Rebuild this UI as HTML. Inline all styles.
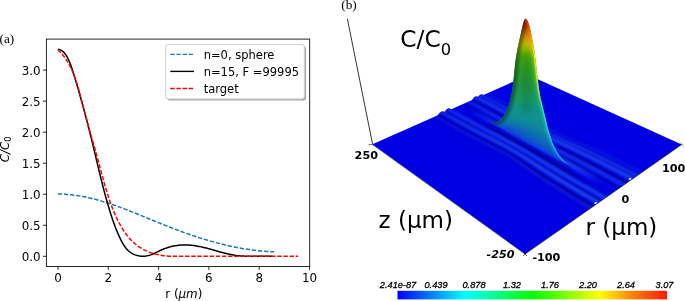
<!DOCTYPE html>
<html><head><meta charset="utf-8"><title>figure</title>
<style>html,body{margin:0;padding:0;background:#fff;overflow:hidden}svg{display:block}</style>
</head><body>
<svg width="685" height="301" viewBox="0 0 685 301">
<rect width="685" height="301" fill="#fff"/>

<defs>
  <linearGradient id="cb" x1="0" x2="1" y1="0" y2="0">
    <stop offset="0" stop-color="#0000ff"/>
    <stop offset="0.143" stop-color="#0092ff"/>
    <stop offset="0.25" stop-color="#00ffff"/>
    <stop offset="0.375" stop-color="#00ff80"/>
    <stop offset="0.5" stop-color="#00ff00"/>
    <stop offset="0.625" stop-color="#80ff00"/>
    <stop offset="0.75" stop-color="#ffff00"/>
    <stop offset="0.875" stop-color="#ff8000"/>
    <stop offset="1" stop-color="#ff1800"/>
  </linearGradient>
  <linearGradient id="pk" gradientUnits="userSpaceOnUse" x1="0" y1="18" x2="0" y2="138">
    <stop offset="0" stop-color="#a00600"/>
    <stop offset="0.045" stop-color="#bc1c00"/>
    <stop offset="0.09" stop-color="#d04400"/>
    <stop offset="0.13" stop-color="#d87400"/>
    <stop offset="0.175" stop-color="#d09c00"/>
    <stop offset="0.22" stop-color="#bcb800"/>
    <stop offset="0.27" stop-color="#8cbc00"/>
    <stop offset="0.33" stop-color="#4cac10"/>
    <stop offset="0.45" stop-color="#2ca02c"/>
    <stop offset="0.57" stop-color="#209848"/>
    <stop offset="0.68" stop-color="#189c68"/>
    <stop offset="0.76" stop-color="#109488"/>
    <stop offset="0.83" stop-color="#109090" stop-opacity="0.75"/>
    <stop offset="0.92" stop-color="#108c94" stop-opacity="0"/>
    <stop offset="1" stop-color="#108c94" stop-opacity="0"/>
  </linearGradient>
  <linearGradient id="sk" gradientUnits="userSpaceOnUse" x1="527" y1="142.5" x2="539.6" y2="119.8">
    <stop offset="0" stop-color="#0a3ce0"/>
    <stop offset="0.15" stop-color="#0c54cc"/>
    <stop offset="0.4" stop-color="#0c70b0"/>
    <stop offset="0.75" stop-color="#108898"/>
    <stop offset="1" stop-color="#109090"/>
  </linearGradient>
  <linearGradient id="hl" gradientUnits="userSpaceOnUse" x1="0" y1="18" x2="0" y2="165">
    <stop offset="0" stop-color="#e03000"/>
    <stop offset="0.12" stop-color="#ff9000"/>
    <stop offset="0.25" stop-color="#fff000"/>
    <stop offset="0.42" stop-color="#d0ff20"/>
    <stop offset="0.52" stop-color="#80f060"/>
    <stop offset="0.62" stop-color="#30e8b0"/>
    <stop offset="0.72" stop-color="#20dce0"/>
    <stop offset="0.88" stop-color="#20b8f0"/>
    <stop offset="1" stop-color="#2080ff"/>
  </linearGradient>
  <linearGradient id="rlg" gradientUnits="userSpaceOnUse" x1="440" y1="100" x2="620" y2="200">
    <stop offset="0" stop-color="#2050ff" stop-opacity="0.7"/>
    <stop offset="0.35" stop-color="#285cff" stop-opacity="1"/>
    <stop offset="0.7" stop-color="#285cff" stop-opacity="1"/>
    <stop offset="1" stop-color="#2458ff" stop-opacity="1"/>
  </linearGradient>
  <linearGradient id="rdg" gradientUnits="userSpaceOnUse" x1="440" y1="100" x2="620" y2="200">
    <stop offset="0" stop-color="#000088" stop-opacity="0.7"/>
    <stop offset="0.35" stop-color="#000080" stop-opacity="1"/>
    <stop offset="0.7" stop-color="#000080" stop-opacity="1"/>
    <stop offset="1" stop-color="#000084" stop-opacity="1"/>
  </linearGradient>
  <linearGradient id="rlc" gradientUnits="userSpaceOnUse" x1="458" y1="106" x2="613" y2="192">
    <stop offset="0.05" stop-color="#2050ff" stop-opacity="0"/>
    <stop offset="0.3" stop-color="#285cff" stop-opacity="1"/>
    <stop offset="0.72" stop-color="#285cff" stop-opacity="1"/>
    <stop offset="0.92" stop-color="#2050ff" stop-opacity="0.1"/>
  </linearGradient>
  <linearGradient id="rdc" gradientUnits="userSpaceOnUse" x1="458" y1="106" x2="613" y2="192">
    <stop offset="0.05" stop-color="#000088" stop-opacity="0"/>
    <stop offset="0.3" stop-color="#000080" stop-opacity="1"/>
    <stop offset="0.72" stop-color="#000080" stop-opacity="1"/>
    <stop offset="0.92" stop-color="#000088" stop-opacity="0.1"/>
  </linearGradient>
  <clipPath id="plc"><polygon points="372.4,144.3 528.5,75 681.7,144.4 525.1,253.9"/></clipPath>
  <clipPath id="pkc"><path d="M488.9,122.0 L490.5,122.4 L492.0,122.6 L493.6,122.5 L495.1,122.3 L496.5,121.9 L497.9,121.3 L499.2,120.6 L500.3,119.7 L501.4,118.8 L502.4,117.8 L503.4,116.6 L504.2,115.5 L505.0,114.2 L505.7,112.9 L506.4,111.5 L507.0,110.1 L507.5,108.7 L508.1,107.3 L508.6,105.9 L509.0,104.4 L509.5,103.0 L509.9,101.6 L510.2,100.1 L510.6,98.7 L510.9,97.2 L511.2,95.8 L511.5,94.3 L511.8,92.8 L512.1,91.4 L512.3,89.9 L512.5,88.4 L512.7,87.0 L512.9,85.5 L513.1,84.0 L513.3,82.5 L513.4,81.1 L513.6,79.6 L513.7,78.1 L513.9,76.6 L514.0,75.1 L514.2,73.6 L514.3,72.2 L514.5,70.7 L514.6,69.2 L514.8,67.7 L514.9,66.2 L515.1,64.8 L515.3,63.3 L515.4,61.8 L515.6,60.3 L515.8,58.8 L516.1,57.4 L516.3,55.9 L516.5,54.4 L516.8,53.0 L517.1,51.5 L517.3,50.0 L517.6,48.6 L517.9,47.1 L518.2,45.6 L518.5,44.2 L518.8,42.7 L519.1,41.3 L519.5,39.8 L519.8,38.3 L520.1,36.9 L520.4,35.4 L520.8,34.0 L521.1,32.5 L521.4,31.1 L521.7,29.6 L522.1,28.2 L522.4,26.7 L522.7,25.3 L523.1,23.8 L523.5,22.4 L524.0,21.0 L524.6,19.7 L525.4,18.5 L527.0,20.0 L527.8,21.8 L528.6,23.7 L529.2,25.6 L529.7,27.6 L530.2,29.5 L530.7,31.5 L531.1,33.5 L531.5,35.4 L531.9,37.4 L532.2,39.4 L532.6,41.4 L533.0,43.3 L533.3,45.3 L533.6,47.3 L534.0,49.3 L534.3,51.3 L534.6,53.3 L534.9,55.3 L535.1,57.2 L535.4,59.2 L535.7,61.2 L535.9,63.2 L536.1,65.2 L536.3,67.2 L536.6,69.2 L536.8,71.3 L537.0,73.3 L537.2,75.3 L537.4,77.3 L537.7,79.3 L537.9,81.3 L538.2,83.3 L538.4,85.3 L538.7,87.3 L539.0,89.2 L539.3,91.2 L539.7,93.2 L540.0,95.2 L540.4,97.2 L540.8,99.1 L541.3,101.1 L541.7,103.0 L542.2,105.0 L542.7,106.9 L543.2,108.9 L543.7,110.8 L544.1,112.8 L544.6,114.8 L545.1,116.7 L545.6,118.7 L546.0,120.6 L546.5,122.6 L547.0,124.6 L547.4,126.5 L547.9,128.5 L548.5,130.4 L549.0,132.4 L549.6,134.3 L550.2,136.2 L550.8,138.1 L551.5,140.0 L552.2,141.9 L553.0,143.8 L553.8,145.6 L554.6,147.4 L555.6,149.2 L556.6,151.0 L557.6,152.7 L558.7,154.4 L559.9,156.0 L561.2,157.6 L562.5,159.1 L563.9,160.5 L565.3,161.9 L566.9,163.2 L568.5,164.4 L570.2,165.5 L572.0,166.5 L570.3,165.6 L568.6,164.7 L566.9,163.7 L565.3,162.8 L563.6,161.9 L561.9,160.9 L560.2,160.0 L558.5,159.1 L556.8,158.2 L555.1,157.3 L553.4,156.4 L551.8,155.4 L550.1,154.5 L548.4,153.6 L546.7,152.7 L545.0,151.8 L543.3,150.9 L541.6,150.0 L539.9,149.1 L538.2,148.2 L536.5,147.3 L534.8,146.4 L533.1,145.5 L531.4,144.6 L529.7,143.7 L528.0,142.7 L526.4,141.8 L524.7,140.9 L523.0,139.9 L521.3,139.0 L519.6,138.0 L518.0,137.1 L516.3,136.1 L514.6,135.2 L512.9,134.3 L511.3,133.3 L509.6,132.4 L507.9,131.5 L506.2,130.5 L504.5,129.6 L502.8,128.7 L501.1,127.8 L499.4,126.9 L497.7,126.1 L496.0,125.2 L494.3,124.4 L492.5,123.5 L490.8,122.7 L489.0,121.9Z"/></clipPath>
  <filter id="b05" filterUnits="userSpaceOnUse" x="340" y="0" width="345" height="301"><feGaussianBlur stdDeviation="0.9"/></filter>
  <filter id="b06" filterUnits="userSpaceOnUse" x="340" y="0" width="345" height="301"><feGaussianBlur stdDeviation="0.6"/></filter>
  <filter id="b1" filterUnits="userSpaceOnUse" x="340" y="0" width="345" height="301"><feGaussianBlur stdDeviation="0.8"/></filter>
  <filter id="b15" filterUnits="userSpaceOnUse" x="340" y="0" width="345" height="301"><feGaussianBlur stdDeviation="1.6"/></filter>
  <filter id="b3" filterUnits="userSpaceOnUse" x="340" y="0" width="345" height="301"><feGaussianBlur stdDeviation="3"/></filter>
</defs>
<g>
  <line x1="347.4" y1="18.9" x2="372.6" y2="144.3" stroke="#000" stroke-width="0.8"/>
  <polygon points="372.4,144.3 528.5,75 681.7,144.4 525.1,253.9" fill="#0000e2"/>
  <path d="M437.4,115.7 Q441.3,108.9 445.2,112.3Z" fill="#0614e4"/><path d="M443.9,112.9 Q447.7,106.1 451.5,109.5Z" fill="#0614e4"/><path d="M471.7,100.5 Q475.3,93.8 478.8,97.4Z" fill="#0614e4"/><path d="M476.9,98.2 Q480.4,92.7 483.9,95.1Z" fill="#0614e4"/>
  <g clip-path="url(#plc)"><g filter="url(#b05)" stroke-linecap="butt">
    <polygon points="429.2,116.5 439.1,122.5 449.5,128.6 460.4,134.7 472.3,140.8 484.9,147.0 497.8,153.4 510.0,160.7 521.6,168.8 533.5,177.5 546.3,186.2 560.2,195.0 574.9,204.0 590.4,213.4 592.4,211.9 576.9,202.7 562.2,193.7 548.3,185.0 535.4,176.3 523.4,167.8 511.7,159.8 499.5,152.5 486.7,146.0 474.2,139.9 462.4,133.8 451.4,127.6 441.1,121.6 431.2,115.7" fill="url(#rdg)" opacity="0.25"/><polygon points="433.7,113.8 443.6,119.6 453.9,125.6 464.9,131.7 476.6,137.8 489.0,144.0 501.7,150.4 513.9,157.6 525.7,165.5 537.8,173.9 550.8,182.4 564.7,191.0 579.5,199.9 594.9,209.0 596.2,208.1 580.8,199.0 566.0,190.2 552.1,181.6 539.1,173.1 526.9,164.8 515.0,156.9 502.8,149.8 490.2,143.3 477.8,137.2 466.2,131.1 455.2,125.0 444.9,119.0 435.0,113.2" fill="url(#rdg)" opacity="0.12"/><polygon points="434.6,114.2 444.5,120.0 454.9,126.0 465.8,132.1 477.5,138.3 489.8,144.4 502.5,150.9 514.7,158.1 526.6,166.0 538.7,174.4 551.7,182.9 565.6,191.5 580.4,200.3 595.8,209.5 598.5,207.6 583.1,198.5 568.4,189.8 554.4,181.2 541.3,172.8 529.0,164.6 517.0,156.8 504.8,149.7 492.3,143.2 480.0,137.0 468.4,130.9 457.5,124.8 447.2,118.8 437.3,113.0" fill="url(#rdg)" opacity="0.75"/><polygon points="440.6,109.5 450.6,115.2 460.9,121.1 471.8,127.1 483.3,133.1 495.4,139.3 507.7,145.7 520.0,152.7 532.1,160.3 544.6,168.3 557.7,176.5 571.8,184.9 586.5,193.5 601.9,202.4 603.7,201.1 588.3,192.3 573.5,183.7 559.5,175.4 546.2,167.3 533.7,159.4 521.5,151.9 509.3,144.9 497.0,138.5 484.9,132.3 473.5,126.2 462.7,120.2 452.3,114.4 442.4,108.7" fill="url(#rdg)" opacity="0.38"/><polygon points="441.0,111.3 451.0,117.1 461.3,123.0 472.2,129.0 483.7,135.2 495.7,141.4 508.1,147.9 520.3,155.0 532.5,162.6 545.0,170.7 558.2,178.9 572.2,187.3 586.9,195.9 602.4,204.9 605.0,203.0 589.6,194.1 574.8,185.6 560.8,177.3 547.5,169.1 534.9,161.2 522.7,153.7 510.4,146.7 498.2,140.2 486.2,133.9 474.8,127.8 464.0,121.8 453.6,115.9 443.7,110.2" fill="url(#rdg)" opacity="0.65"/><polygon points="447.0,106.7 457.0,112.3 467.3,118.1 478.1,124.0 489.4,130.1 501.2,136.3 513.3,142.8 525.6,149.7 537.9,157.0 550.7,164.7 564.1,172.6 578.2,180.7 592.9,189.1 608.3,197.9 610.1,196.6 594.7,187.9 579.9,179.6 565.8,171.5 552.3,163.7 539.5,156.1 527.1,148.8 514.8,142.0 502.8,135.5 491.0,129.3 479.8,123.2 469.0,117.3 458.7,111.5 448.7,105.9" fill="url(#rdg)" opacity="0.33"/><polygon points="449.6,107.6 459.5,113.2 469.8,119.0 480.6,125.0 491.8,131.1 503.5,137.4 515.6,143.9 527.8,150.9 540.3,158.2 553.1,165.8 566.6,173.6 580.7,181.7 595.5,190.1 610.9,198.8 614.9,196.0 599.5,187.4 584.7,179.2 570.6,171.2 557.0,163.5 543.9,156.1 531.3,148.9 519.0,142.1 507.1,135.5 495.6,129.2 484.5,123.1 473.8,117.1 463.5,111.4 453.5,105.8" fill="url(#rdc)" opacity="0.6"/><polygon points="458.5,101.1 468.5,106.5 478.8,112.2 489.4,118.0 500.4,124.0 511.7,130.3 523.4,136.8 535.7,143.5 548.4,150.3 561.7,157.5 575.5,164.9 589.7,172.6 604.5,180.6 619.8,189.0 622.4,187.2 607.1,178.9 592.3,170.9 578.0,163.3 564.2,156.0 550.8,149.0 537.9,142.2 525.7,135.6 514.1,129.1 502.9,122.8 492.0,116.7 481.4,110.9 471.1,105.4 461.1,100.0" fill="url(#rdc)" opacity="0.30"/><polygon points="460.4,102.8 470.4,108.2 480.7,113.9 491.3,119.8 502.2,125.9 513.4,132.3 525.1,138.9 537.3,145.6 550.2,152.4 563.6,159.5 577.4,167.0 591.6,174.7 606.4,182.8 621.8,191.2 624.3,189.4 608.9,181.1 594.1,173.1 579.9,165.4 566.0,158.1 552.5,151.1 539.5,144.4 527.3,137.7 515.7,131.1 504.6,124.7 493.8,118.6 483.2,112.7 472.9,107.1 463.0,101.7" fill="url(#rdg)" opacity="0.5"/><polygon points="466.1,98.8 476.1,104.1 486.4,109.7 496.9,115.5 507.7,121.5 518.6,127.9 530.1,134.4 542.3,141.0 555.4,147.6 569.0,154.4 583.0,161.5 597.3,169.0 612.1,176.9 627.4,185.1 629.0,183.9 613.7,175.8 598.9,168.0 584.6,160.5 570.6,153.5 556.9,146.8 543.7,140.2 531.5,133.7 520.1,127.1 509.2,120.7 498.6,114.7 488.0,108.9 477.8,103.4 467.8,98.0" fill="url(#rdg)" opacity="0.25"/><polygon points="468.5,99.2 478.5,104.6 488.8,110.1 499.3,115.9 510.0,122.1 520.8,128.5 532.2,135.1 544.4,141.7 557.6,148.2 571.3,154.9 585.4,162.0 599.7,169.5 614.5,177.3 629.8,185.5 632.4,183.6 617.1,175.5 602.4,167.8 588.0,160.4 573.9,153.4 560.0,146.8 546.8,140.4 534.5,133.8 523.3,127.2 512.5,120.8 502.0,114.7 491.5,108.9 481.2,103.3 471.2,98.0" fill="url(#rdg)" opacity="0.7"/><polygon points="474.6,94.5 484.6,99.8 494.9,105.2 505.3,110.9 515.8,116.9 526.3,123.3 537.5,129.9 549.7,136.3 563.1,142.6 577.1,148.9 591.3,155.7 605.7,162.9 620.5,170.5 635.7,178.5 637.5,177.3 622.2,169.4 607.4,161.8 593.0,154.6 578.8,147.9 564.7,141.6 551.3,135.4 539.0,129.0 528.0,122.5 517.5,116.1 507.0,110.0 496.6,104.4 486.3,99.0 476.3,93.8" fill="url(#rdg)" opacity="0.35"/><polygon points="474.4,96.6 484.4,101.9 494.7,107.4 505.2,113.1 515.6,119.2 526.2,125.7 537.4,132.3 549.6,138.8 563.0,145.1 576.9,151.6 591.1,158.4 605.5,165.7 620.3,173.4 635.6,181.4 637.8,179.9 622.5,171.9 607.7,164.3 593.3,157.1 579.0,150.3 565.0,144.0 551.5,137.7 539.3,131.3 528.2,124.7 517.7,118.2 507.3,112.1 496.9,106.3 486.6,100.9 476.6,95.6" fill="url(#rdg)" opacity="0.5"/><polygon points="479.4,92.9 489.4,98.1 499.7,103.5 510.1,109.1 520.4,115.2 530.7,121.6 541.7,128.2 554.0,134.6 567.5,140.7 581.7,146.8 596.0,153.4 610.5,160.5 625.2,168.0 640.5,175.8 641.9,174.8 626.6,167.0 611.9,159.6 597.4,152.5 583.0,146.0 568.8,139.9 555.2,133.9 543.0,127.5 532.1,120.9 521.8,114.5 511.5,108.4 501.1,102.8 490.9,97.4 480.8,92.3" fill="url(#rdg)" opacity="0.25"/><polygon points="480.7,93.9 490.7,99.1 500.9,104.5 511.3,110.2 521.6,116.3 531.9,122.8 542.8,129.4 555.1,135.8 568.6,141.9 582.9,148.0 597.3,154.6 611.7,161.7 626.5,169.2 641.7,177.1 643.4,175.9 628.2,168.1 613.4,160.6 598.9,153.6 584.5,147.0 570.2,141.0 556.6,134.9 544.4,128.6 533.5,121.9 523.3,115.4 513.0,109.3 502.7,103.6 492.4,98.3 482.4,93.1" fill="url(#rdg)" opacity="0.25"/><polygon points="484.6,91.3 494.6,96.5 504.8,101.8 515.2,107.4 525.3,113.5 535.5,120.0 546.3,126.6 558.5,132.9 572.2,138.8 586.6,144.8 601.1,151.2 615.6,158.1 630.3,165.5 645.5,173.2 646.7,172.4 631.4,164.7 616.7,157.4 602.2,150.5 587.7,144.1 573.2,138.2 559.5,132.3 547.3,126.1 536.5,119.5 526.4,112.9 516.3,106.9 506.0,101.2 495.7,95.9 485.7,90.8" fill="url(#rdg)" opacity="0.12"/>
    <polygon points="431.0,114.9 441.0,120.8 451.3,126.8 462.3,133.0 474.1,139.1 486.6,145.2 499.4,151.6 511.6,158.8 523.3,166.9 535.3,175.4 548.2,184.0 562.1,192.8 576.8,201.7 592.3,210.9 594.9,209.0 579.5,199.9 564.7,191.0 550.8,182.4 537.8,173.9 525.7,165.5 513.9,157.6 501.7,150.4 489.0,144.0 476.6,137.8 464.9,131.7 453.9,125.6 443.6,119.6 433.7,113.8" fill="url(#rlg)" opacity="0.22"/><polygon points="437.1,111.1 447.0,116.8 457.4,122.7 468.2,128.8 479.9,134.8 492.1,141.0 504.6,147.4 516.9,154.5 528.9,162.2 541.1,170.4 554.2,178.7 568.2,187.2 582.9,195.9 598.4,204.9 601.9,202.4 586.5,193.5 571.8,184.9 557.7,176.5 544.6,168.3 532.1,160.3 520.0,152.7 507.7,145.7 495.4,139.3 483.3,133.1 471.8,127.1 460.9,121.1 450.6,115.2 440.6,109.5" fill="url(#rlg)" opacity="0.7"/><polygon points="443.5,108.2 453.5,113.9 463.8,119.7 474.6,125.7 486.0,131.8 498.0,137.9 510.3,144.4 522.5,151.4 534.7,158.8 547.3,166.7 560.6,174.7 574.7,183.0 589.4,191.5 604.8,200.3 608.3,197.9 592.9,189.1 578.2,180.7 564.1,172.6 550.7,164.7 537.9,157.0 525.6,149.7 513.3,142.8 501.2,136.3 489.4,130.1 478.1,124.0 467.3,118.1 457.0,112.3 447.0,106.7" fill="url(#rlg)" opacity="0.62"/><polygon points="453.3,103.4 463.2,108.9 473.6,114.6 484.3,120.5 495.4,126.5 506.9,132.8 518.8,139.3 531.1,146.0 543.6,153.1 556.7,160.5 570.3,168.1 584.5,176.0 599.2,184.2 614.6,192.7 619.8,189.0 604.5,180.6 589.7,172.6 575.5,164.9 561.7,157.5 548.4,150.3 535.7,143.5 523.4,136.8 511.7,130.3 500.4,124.0 489.4,118.0 478.8,112.2 468.5,106.5 458.5,101.1" fill="url(#rlc)" opacity="0.65"/><polygon points="462.8,100.2 472.8,105.6 483.1,111.2 493.7,117.0 504.5,123.1 515.6,129.4 527.1,136.0 539.4,142.6 552.3,149.4 565.8,156.3 579.7,163.6 594.0,171.2 608.7,179.1 624.1,187.4 627.4,185.1 612.1,176.9 597.3,169.0 583.0,161.5 569.0,154.4 555.4,147.6 542.3,141.0 530.1,134.4 518.6,127.9 507.7,121.5 496.9,115.5 486.4,109.7 476.1,104.1 466.1,98.8" fill="url(#rlg)" opacity="0.5"/><polygon points="471.0,96.1 481.0,101.4 491.3,106.8 501.8,112.6 512.4,118.6 523.1,125.0 534.4,131.5 546.6,138.0 559.9,144.4 573.7,151.0 587.8,157.9 602.2,165.2 616.9,172.9 632.2,181.0 635.7,178.5 620.5,170.5 605.7,162.9 591.3,155.7 577.1,148.9 563.1,142.6 549.7,136.3 537.5,129.9 526.3,123.3 515.8,116.9 505.3,110.9 494.9,105.2 484.6,99.8 474.6,94.5" fill="url(#rlg)" opacity="0.7"/><polygon points="476.5,94.2 486.5,99.4 496.8,104.8 507.2,110.5 517.6,116.6 528.1,123.0 539.2,129.6 551.4,136.0 564.8,142.2 578.9,148.5 593.2,155.2 607.6,162.4 622.3,169.9 637.6,177.9 640.5,175.8 625.2,168.0 610.5,160.5 596.0,153.4 581.7,146.8 567.5,140.7 554.0,134.6 541.7,128.2 530.7,121.6 520.4,115.2 510.1,109.1 499.7,103.5 489.4,98.1 479.4,92.9" fill="url(#rlg)" opacity="0.5"/><polygon points="482.3,92.3 492.3,97.5 502.6,102.9 512.9,108.5 523.1,114.6 533.4,121.1 544.3,127.7 556.5,134.0 570.1,140.0 584.4,146.1 598.8,152.6 613.3,159.6 628.1,167.0 643.3,174.8 645.5,173.2 630.3,165.5 615.6,158.1 601.1,151.2 586.6,144.8 572.2,138.8 558.5,132.9 546.3,126.6 535.5,120.0 525.3,113.5 515.2,107.4 504.8,101.8 494.6,96.5 484.6,91.3" fill="url(#rlg)" opacity="0.22"/>
  </g></g>
  <!-- peak -->
  <path d="M572.0,166.6 L570.3,165.6 L568.6,164.7 L566.9,163.7 L565.3,162.8 L563.6,161.9 L561.9,160.9 L560.2,160.0 L558.5,159.1 L556.8,158.2 L555.1,157.3 L553.4,156.4 L551.8,155.4 L550.1,154.5 L548.4,153.6 L546.7,152.7 L545.0,151.8 L543.3,150.9 L541.6,150.0 L539.9,149.1 L538.2,148.2 L536.5,147.3 L534.8,146.4 L533.1,145.5 L531.4,144.6 L529.7,143.7 L528.0,142.7 L526.4,141.8 L524.7,140.9 L523.0,139.9 L521.3,139.0 L519.6,138.0 L518.0,137.1 L516.3,136.1 L514.6,135.2 L512.9,134.3 L511.3,133.3 L509.6,132.4 L507.9,131.5 L506.2,130.5 L504.5,129.6 L502.8,128.7 L501.1,127.8 L499.4,126.9 L497.7,126.1 L496.0,125.2 L494.3,124.4 L492.5,123.5 L490.8,122.7 L489.0,121.9" fill="none" stroke="#000090" stroke-width="2.5" opacity="0.5" filter="url(#b1)" transform="translate(-0.5,2.2)"/>
  <path d="M488.9,122.0 L490.5,122.4 L492.0,122.6 L493.6,122.5 L495.1,122.3 L496.5,121.9 L497.9,121.3 L499.2,120.6 L500.3,119.7 L501.4,118.8 L502.4,117.8 L503.4,116.6 L504.2,115.5 L505.0,114.2 L505.7,112.9 L506.4,111.5 L507.0,110.1 L507.5,108.7 L508.1,107.3 L508.6,105.9 L509.0,104.4 L509.5,103.0 L509.9,101.6 L510.2,100.1 L510.6,98.7 L510.9,97.2 L511.2,95.8 L511.5,94.3 L511.8,92.8 L512.1,91.4 L512.3,89.9 L512.5,88.4 L512.7,87.0 L512.9,85.5 L513.1,84.0 L513.3,82.5 L513.4,81.1 L513.6,79.6 L513.7,78.1 L513.9,76.6 L514.0,75.1 L514.2,73.6 L514.3,72.2 L514.5,70.7 L514.6,69.2 L514.8,67.7 L514.9,66.2 L515.1,64.8 L515.3,63.3 L515.4,61.8 L515.6,60.3 L515.8,58.8 L516.1,57.4 L516.3,55.9 L516.5,54.4 L516.8,53.0 L517.1,51.5 L517.3,50.0 L517.6,48.6 L517.9,47.1 L518.2,45.6 L518.5,44.2 L518.8,42.7 L519.1,41.3 L519.5,39.8 L519.8,38.3 L520.1,36.9 L520.4,35.4 L520.8,34.0 L521.1,32.5 L521.4,31.1 L521.7,29.6 L522.1,28.2 L522.4,26.7 L522.7,25.3 L523.1,23.8 L523.5,22.4 L524.0,21.0 L524.6,19.7 L525.4,18.5 L527.0,20.0 L527.8,21.8 L528.6,23.7 L529.2,25.6 L529.7,27.6 L530.2,29.5 L530.7,31.5 L531.1,33.5 L531.5,35.4 L531.9,37.4 L532.2,39.4 L532.6,41.4 L533.0,43.3 L533.3,45.3 L533.6,47.3 L534.0,49.3 L534.3,51.3 L534.6,53.3 L534.9,55.3 L535.1,57.2 L535.4,59.2 L535.7,61.2 L535.9,63.2 L536.1,65.2 L536.3,67.2 L536.6,69.2 L536.8,71.3 L537.0,73.3 L537.2,75.3 L537.4,77.3 L537.7,79.3 L537.9,81.3 L538.2,83.3 L538.4,85.3 L538.7,87.3 L539.0,89.2 L539.3,91.2 L539.7,93.2 L540.0,95.2 L540.4,97.2 L540.8,99.1 L541.3,101.1 L541.7,103.0 L542.2,105.0 L542.7,106.9 L543.2,108.9 L543.7,110.8 L544.1,112.8 L544.6,114.8 L545.1,116.7 L545.6,118.7 L546.0,120.6 L546.5,122.6 L547.0,124.6 L547.4,126.5 L547.9,128.5 L548.5,130.4 L549.0,132.4 L549.6,134.3 L550.2,136.2 L550.8,138.1 L551.5,140.0 L552.2,141.9 L553.0,143.8 L553.8,145.6 L554.6,147.4 L555.6,149.2 L556.6,151.0 L557.6,152.7 L558.7,154.4 L559.9,156.0 L561.2,157.6 L562.5,159.1 L563.9,160.5 L565.3,161.9 L566.9,163.2 L568.5,164.4 L570.2,165.5 L572.0,166.5 L570.3,165.6 L568.6,164.7 L566.9,163.7 L565.3,162.8 L563.6,161.9 L561.9,160.9 L560.2,160.0 L558.5,159.1 L556.8,158.2 L555.1,157.3 L553.4,156.4 L551.8,155.4 L550.1,154.5 L548.4,153.6 L546.7,152.7 L545.0,151.8 L543.3,150.9 L541.6,150.0 L539.9,149.1 L538.2,148.2 L536.5,147.3 L534.8,146.4 L533.1,145.5 L531.4,144.6 L529.7,143.7 L528.0,142.7 L526.4,141.8 L524.7,140.9 L523.0,139.9 L521.3,139.0 L519.6,138.0 L518.0,137.1 L516.3,136.1 L514.6,135.2 L512.9,134.3 L511.3,133.3 L509.6,132.4 L507.9,131.5 L506.2,130.5 L504.5,129.6 L502.8,128.7 L501.1,127.8 L499.4,126.9 L497.7,126.1 L496.0,125.2 L494.3,124.4 L492.5,123.5 L490.8,122.7 L489.0,121.9Z" fill="url(#sk)"/>
  <path d="M488.9,122.0 L490.5,122.4 L492.0,122.6 L493.6,122.5 L495.1,122.3 L496.5,121.9 L497.9,121.3 L499.2,120.6 L500.3,119.7 L501.4,118.8 L502.4,117.8 L503.4,116.6 L504.2,115.5 L505.0,114.2 L505.7,112.9 L506.4,111.5 L507.0,110.1 L507.5,108.7 L508.1,107.3 L508.6,105.9 L509.0,104.4 L509.5,103.0 L509.9,101.6 L510.2,100.1 L510.6,98.7 L510.9,97.2 L511.2,95.8 L511.5,94.3 L511.8,92.8 L512.1,91.4 L512.3,89.9 L512.5,88.4 L512.7,87.0 L512.9,85.5 L513.1,84.0 L513.3,82.5 L513.4,81.1 L513.6,79.6 L513.7,78.1 L513.9,76.6 L514.0,75.1 L514.2,73.6 L514.3,72.2 L514.5,70.7 L514.6,69.2 L514.8,67.7 L514.9,66.2 L515.1,64.8 L515.3,63.3 L515.4,61.8 L515.6,60.3 L515.8,58.8 L516.1,57.4 L516.3,55.9 L516.5,54.4 L516.8,53.0 L517.1,51.5 L517.3,50.0 L517.6,48.6 L517.9,47.1 L518.2,45.6 L518.5,44.2 L518.8,42.7 L519.1,41.3 L519.5,39.8 L519.8,38.3 L520.1,36.9 L520.4,35.4 L520.8,34.0 L521.1,32.5 L521.4,31.1 L521.7,29.6 L522.1,28.2 L522.4,26.7 L522.7,25.3 L523.1,23.8 L523.5,22.4 L524.0,21.0 L524.6,19.7 L525.4,18.5 L527.0,20.0 L527.8,21.8 L528.6,23.7 L529.2,25.6 L529.7,27.6 L530.2,29.5 L530.7,31.5 L531.1,33.5 L531.5,35.4 L531.9,37.4 L532.2,39.4 L532.6,41.4 L533.0,43.3 L533.3,45.3 L533.6,47.3 L534.0,49.3 L534.3,51.3 L534.6,53.3 L534.9,55.3 L535.1,57.2 L535.4,59.2 L535.7,61.2 L535.9,63.2 L536.1,65.2 L536.3,67.2 L536.6,69.2 L536.8,71.3 L537.0,73.3 L537.2,75.3 L537.4,77.3 L537.7,79.3 L537.9,81.3 L538.2,83.3 L538.4,85.3 L538.7,87.3 L539.0,89.2 L539.3,91.2 L539.7,93.2 L540.0,95.2 L540.4,97.2 L540.8,99.1 L541.3,101.1 L541.7,103.0 L542.2,105.0 L542.7,106.9 L543.2,108.9 L543.7,110.8 L544.1,112.8 L544.6,114.8 L545.1,116.7 L545.6,118.7 L546.0,120.6 L546.5,122.6 L547.0,124.6 L547.4,126.5 L547.9,128.5 L548.5,130.4 L549.0,132.4 L549.6,134.3 L550.2,136.2 L550.8,138.1 L551.5,140.0 L552.2,141.9 L553.0,143.8 L553.8,145.6 L554.6,147.4 L555.6,149.2 L556.6,151.0 L557.6,152.7 L558.7,154.4 L559.9,156.0 L561.2,157.6 L562.5,159.1 L563.9,160.5 L565.3,161.9 L566.9,163.2 L568.5,164.4 L570.2,165.5 L572.0,166.5 L570.3,165.6 L568.6,164.7 L566.9,163.7 L565.3,162.8 L563.6,161.9 L561.9,160.9 L560.2,160.0 L558.5,159.1 L556.8,158.2 L555.1,157.3 L553.4,156.4 L551.8,155.4 L550.1,154.5 L548.4,153.6 L546.7,152.7 L545.0,151.8 L543.3,150.9 L541.6,150.0 L539.9,149.1 L538.2,148.2 L536.5,147.3 L534.8,146.4 L533.1,145.5 L531.4,144.6 L529.7,143.7 L528.0,142.7 L526.4,141.8 L524.7,140.9 L523.0,139.9 L521.3,139.0 L519.6,138.0 L518.0,137.1 L516.3,136.1 L514.6,135.2 L512.9,134.3 L511.3,133.3 L509.6,132.4 L507.9,131.5 L506.2,130.5 L504.5,129.6 L502.8,128.7 L501.1,127.8 L499.4,126.9 L497.7,126.1 L496.0,125.2 L494.3,124.4 L492.5,123.5 L490.8,122.7 L489.0,121.9Z" fill="url(#pk)"/>
  <g clip-path="url(#pkc)">
    <path d="M488.9,122.0 L490.5,122.4 L492.0,122.6 L493.6,122.5 L495.1,122.3 L496.5,121.9 L497.9,121.3 L499.2,120.6 L500.3,119.7 L501.4,118.8 L502.4,117.8 L503.4,116.6 L504.2,115.5 L505.0,114.2 L505.7,112.9 L506.4,111.5 L507.0,110.1 L507.5,108.7 L508.1,107.3 L508.6,105.9 L509.0,104.4 L509.5,103.0 L509.9,101.6 L510.2,100.1 L510.6,98.7 L510.9,97.2 L511.2,95.8 L511.5,94.3 L511.8,92.8 L512.1,91.4 L512.3,89.9 L512.5,88.4 L512.7,87.0 L512.9,85.5 L513.1,84.0 L513.3,82.5 L513.4,81.1 L513.6,79.6 L513.7,78.1 L513.9,76.6 L514.0,75.1 L514.2,73.6 L514.3,72.2 L514.5,70.7 L514.6,69.2 L514.8,67.7 L514.9,66.2 L515.1,64.8 L515.3,63.3 L515.4,61.8 L515.6,60.3 L515.8,58.8 L516.1,57.4 L516.3,55.9 L516.5,54.4 L516.8,53.0 L517.1,51.5 L517.3,50.0 L517.6,48.6 L517.9,47.1 L518.2,45.6 L518.5,44.2 L518.8,42.7 L519.1,41.3 L519.5,39.8 L519.8,38.3 L520.1,36.9 L520.4,35.4 L520.8,34.0 L521.1,32.5 L521.4,31.1 L521.7,29.6 L522.1,28.2 L522.4,26.7 L522.7,25.3 L523.1,23.8 L523.5,22.4 L524.0,21.0 L524.6,19.7 L525.4,18.5" fill="none" stroke="#002818" stroke-width="7" opacity="0.5" filter="url(#b15)"/>
    <path d="M525.5,50 L526.5,112" fill="none" stroke="#003810" stroke-width="7" opacity="0.22" filter="url(#b3)"/>
    <path d="M525.7,18.6 L527.0,20.0 L527.8,21.8 L528.6,23.7 L529.2,25.6 L529.7,27.6 L530.2,29.5 L530.7,31.5 L531.1,33.5 L531.5,35.4 L531.9,37.4 L532.2,39.4 L532.6,41.4 L533.0,43.3 L533.3,45.3 L533.6,47.3 L534.0,49.3 L534.3,51.3 L534.6,53.3 L534.9,55.3 L535.1,57.2 L535.4,59.2 L535.7,61.2 L535.9,63.2 L536.1,65.2 L536.3,67.2 L536.6,69.2 L536.8,71.3 L537.0,73.3 L537.2,75.3 L537.4,77.3 L537.7,79.3 L537.9,81.3 L538.2,83.3 L538.4,85.3 L538.7,87.3 L539.0,89.2 L539.3,91.2 L539.7,93.2 L540.0,95.2 L540.4,97.2 L540.8,99.1 L541.3,101.1 L541.7,103.0 L542.2,105.0 L542.7,106.9 L543.2,108.9 L543.7,110.8 L544.1,112.8 L544.6,114.8 L545.1,116.7 L545.6,118.7 L546.0,120.6 L546.5,122.6 L547.0,124.6 L547.4,126.5 L547.9,128.5 L548.5,130.4 L549.0,132.4 L549.6,134.3 L550.2,136.2 L550.8,138.1 L551.5,140.0 L552.2,141.9 L553.0,143.8 L553.8,145.6 L554.6,147.4 L555.6,149.2 L556.6,151.0 L557.6,152.7 L558.7,154.4 L559.9,156.0 L561.2,157.6 L562.5,159.1 L563.9,160.5 L565.3,161.9 L566.9,163.2 L568.5,164.4 L570.2,165.5 L572.0,166.5" fill="none" stroke="url(#hl)" stroke-width="5" opacity="0.45" filter="url(#b15)"/>
    <path d="M525.7,18.6 L527.0,20.0 L527.8,21.8 L528.6,23.7 L529.2,25.6 L529.7,27.6 L530.2,29.5 L530.7,31.5 L531.1,33.5 L531.5,35.4 L531.9,37.4 L532.2,39.4 L532.6,41.4 L533.0,43.3 L533.3,45.3 L533.6,47.3 L534.0,49.3 L534.3,51.3 L534.6,53.3 L534.9,55.3 L535.1,57.2 L535.4,59.2 L535.7,61.2 L535.9,63.2 L536.1,65.2 L536.3,67.2 L536.6,69.2 L536.8,71.3 L537.0,73.3 L537.2,75.3 L537.4,77.3 L537.7,79.3 L537.9,81.3 L538.2,83.3 L538.4,85.3 L538.7,87.3 L539.0,89.2 L539.3,91.2 L539.7,93.2 L540.0,95.2 L540.4,97.2 L540.8,99.1 L541.3,101.1 L541.7,103.0 L542.2,105.0 L542.7,106.9 L543.2,108.9 L543.7,110.8 L544.1,112.8 L544.6,114.8 L545.1,116.7 L545.6,118.7 L546.0,120.6 L546.5,122.6 L547.0,124.6 L547.4,126.5 L547.9,128.5 L548.5,130.4 L549.0,132.4 L549.6,134.3 L550.2,136.2 L550.8,138.1 L551.5,140.0 L552.2,141.9 L553.0,143.8 L553.8,145.6 L554.6,147.4 L555.6,149.2 L556.6,151.0 L557.6,152.7 L558.7,154.4 L559.9,156.0 L561.2,157.6 L562.5,159.1 L563.9,160.5 L565.3,161.9 L566.9,163.2 L568.5,164.4 L570.2,165.5 L572.0,166.5" fill="none" stroke="url(#hl)" stroke-width="2.6" opacity="0.85" filter="url(#b06)"/>
  </g>
  <ellipse cx="595.6" cy="203.0" rx="1.5" ry="0.9" fill="#fff" opacity="0.9" transform="rotate(-35 595.6 203)"/>
  <ellipse cx="630.0" cy="179.0" rx="1.5" ry="0.9" fill="#fff" opacity="0.9" transform="rotate(-35 630 179)"/>
  <path d="M372.4,144.5 L525.1,254.1 L681.7,144.6" fill="none" stroke="#000" stroke-width="0.7" opacity="0.75"/>
  <g stroke="#000" stroke-width="0.6" fill="none">
    <path d="M368.4,144.8 L372.6,144.6 M523.2,252.3 L527.0,256.0 M526.8,252.3 L523.2,256.0 M680.5,143.2 L683.5,146"/>
  </g>
  <rect x="397.5" y="290.8" width="269.5" height="8.6" fill="url(#cb)"/>
</g>

<g font-family="'DejaVu Sans','Liberation Sans',sans-serif" fill="#000">
  <text x="400.3" y="46.9" font-size="23.3">C/C<tspan font-size="16.3" dy="7.9">0</tspan></text>
  <text x="378.6" y="227.5" font-size="23">z (μm)</text>
  <text x="585.6" y="234.5" font-size="23">r (μm)</text>
  <g font-weight="bold" font-size="11.2">
    <text x="354.6" y="159.3">250</text>
    <text x="662" y="172">100</text>
    <text x="621.5" y="203.4">0</text>
    <text x="532.4" y="261.4">-100</text>
    <text x="486.6" y="257.8" font-style="italic">-250</text>
  </g>
</g>
<g font-family="'Liberation Sans',sans-serif" font-style="italic" font-size="9.2" fill="#000" stroke="#000" stroke-width="0.3" text-anchor="middle">
  <text x="398" y="288">2.41e-87</text>
  <text x="436" y="288">0.439</text>
  <text x="474" y="288">0.878</text>
  <text x="512" y="288">1.32</text>
  <text x="550" y="288">1.76</text>
  <text x="588" y="288">2.20</text>
  <text x="626" y="288">2.64</text>
  <text x="664.5" y="288">3.07</text>
</g>


<g font-family="'DejaVu Sans','Liberation Sans',sans-serif" font-size="11.9" fill="#000">
  <g stroke="#000" stroke-width="0.85" fill="none"><line x1="58.00" y1="266.5" x2="58.00" y2="269.9"/><line x1="108.30" y1="266.5" x2="108.30" y2="269.9"/><line x1="158.60" y1="266.5" x2="158.60" y2="269.9"/><line x1="208.90" y1="266.5" x2="208.90" y2="269.9"/><line x1="259.20" y1="266.5" x2="259.20" y2="269.9"/><line x1="309.50" y1="266.5" x2="309.50" y2="269.9"/><line x1="46.4" y1="256.30" x2="42.9" y2="256.30"/><line x1="46.4" y1="225.27" x2="42.9" y2="225.27"/><line x1="46.4" y1="194.23" x2="42.9" y2="194.23"/><line x1="46.4" y1="163.19" x2="42.9" y2="163.19"/><line x1="46.4" y1="132.16" x2="42.9" y2="132.16"/><line x1="46.4" y1="101.12" x2="42.9" y2="101.12"/><line x1="46.4" y1="70.09" x2="42.9" y2="70.09"/></g>
  <text x="58.00" y="281.5" text-anchor="middle">0</text><text x="108.30" y="281.5" text-anchor="middle">2</text><text x="158.60" y="281.5" text-anchor="middle">4</text><text x="208.90" y="281.5" text-anchor="middle">6</text><text x="259.20" y="281.5" text-anchor="middle">8</text><text x="309.50" y="281.5" text-anchor="middle">10</text><text x="40.6" y="261.30" text-anchor="end">0.0</text><text x="40.6" y="230.27" text-anchor="end">0.5</text><text x="40.6" y="199.23" text-anchor="end">1.0</text><text x="40.6" y="168.19" text-anchor="end">1.5</text><text x="40.6" y="137.16" text-anchor="end">2.0</text><text x="40.6" y="106.12" text-anchor="end">2.5</text><text x="40.6" y="75.09" text-anchor="end">3.0</text>
  <g fill="none" stroke-linejoin="round">
    <path d="M57.75,193.91 L59.68,193.96 L61.61,194.03 L63.53,194.13 L65.44,194.26 L67.35,194.41 L69.25,194.58 L71.14,194.79 L73.02,195.01 L74.90,195.26 L76.78,195.53 L78.64,195.82 L80.50,196.13 L82.36,196.47 L84.21,196.82 L86.05,197.20 L87.89,197.59 L89.73,198.00 L91.56,198.44 L93.38,198.89 L95.20,199.35 L97.02,199.83 L98.83,200.33 L100.64,200.85 L102.44,201.38 L104.24,201.92 L106.03,202.48 L107.83,203.05 L109.61,203.63 L111.40,204.22 L113.18,204.83 L114.96,205.45 L116.74,206.08 L118.51,206.72 L120.29,207.36 L122.05,208.02 L123.82,208.68 L125.59,209.36 L127.35,210.03 L129.11,210.72 L130.87,211.41 L132.63,212.11 L134.39,212.81 L136.15,213.52 L137.90,214.23 L139.66,214.94 L141.41,215.66 L143.16,216.38 L144.92,217.10 L146.67,217.82 L148.42,218.54 L150.18,219.26 L151.93,219.98 L153.69,220.70 L155.44,221.42 L157.20,222.14 L158.95,222.85 L160.71,223.56 L162.47,224.27 L164.23,224.97 L165.99,225.67 L167.75,226.36 L169.52,227.05 L171.28,227.73 L173.05,228.41 L174.82,229.08 L176.59,229.75 L178.36,230.41 L180.13,231.07 L181.91,231.72 L183.69,232.36 L185.47,233.00 L187.25,233.63 L189.03,234.26 L190.81,234.87 L192.60,235.48 L194.39,236.08 L196.18,236.68 L197.98,237.26 L199.77,237.84 L201.57,238.41 L203.37,238.97 L205.17,239.52 L206.98,240.07 L208.79,240.60 L210.60,241.12 L212.41,241.64 L214.23,242.14 L216.05,242.64 L217.87,243.12 L219.69,243.60 L221.52,244.06 L223.35,244.51 L225.19,244.95 L227.02,245.38 L228.86,245.80 L230.71,246.21 L232.55,246.60 L234.40,246.99 L236.25,247.36 L238.11,247.71 L239.97,248.06 L241.83,248.39 L243.70,248.71 L245.57,249.02 L247.45,249.31 L249.32,249.58 L251.21,249.85 L253.09,250.10 L254.98,250.33 L256.88,250.55 L258.77,250.76 L260.67,250.95 L262.58,251.13 L264.49,251.29 L266.40,251.43 L268.32,251.56 L270.25,251.67 L272.17,251.77 L274.10,251.84" stroke="#1f77b4" stroke-width="1.5" stroke-dasharray="4.35 1.8"/>
    <path d="M57.88,49.11 L59.13,49.43 L60.29,49.87 L61.36,50.42 L62.35,51.07 L63.26,51.81 L64.09,52.63 L64.87,53.51 L65.59,54.46 L66.25,55.46 L66.88,56.50 L67.46,57.57 L68.02,58.66 L68.55,59.76 L69.05,60.87 L69.54,62.00 L70.01,63.13 L70.45,64.27 L70.89,65.42 L71.31,66.57 L71.71,67.73 L72.10,68.90 L72.49,70.07 L72.86,71.24 L73.23,72.42 L73.59,73.60 L73.95,74.78 L74.31,75.95 L74.66,77.13 L75.02,78.31 L75.37,79.49 L75.72,80.66 L76.07,81.84 L76.42,83.02 L76.76,84.19 L77.11,85.37 L77.45,86.54 L77.79,87.72 L78.13,88.90 L78.47,90.07 L78.81,91.25 L79.15,92.42 L79.48,93.60 L79.82,94.77 L80.15,95.95 L80.48,97.12 L80.81,98.30 L81.14,99.47 L81.46,100.65 L81.79,101.82 L82.11,103.00 L82.44,104.17 L82.76,105.35 L83.08,106.52 L83.40,107.70 L83.72,108.87 L84.03,110.05 L84.35,111.22 L84.66,112.40 L84.98,113.58 L85.29,114.75 L85.60,115.93 L85.91,117.11 L86.22,118.28 L86.53,119.46 L86.83,120.64 L87.14,121.82 L87.44,123.00 L87.75,124.18 L88.05,125.36 L88.35,126.54 L88.65,127.72 L88.95,128.90 L89.25,130.08 L89.55,131.26 L89.84,132.44 L90.14,133.63 L90.43,134.81 L90.73,135.99 L91.02,137.18 L91.31,138.36 L91.60,139.55 L91.89,140.74 L92.18,141.92 L92.47,143.11 L92.75,144.30 L93.04,145.49 L93.32,146.68 L93.61,147.87 L93.89,149.06 L94.18,150.25 L94.46,151.44 L94.74,152.63 L95.03,153.83 L95.31,155.02 L95.59,156.21 L95.87,157.41 L96.16,158.60 L96.44,159.79 L96.72,160.99 L97.01,162.18 L97.29,163.37 L97.57,164.57 L97.86,165.76 L98.14,166.95 L98.43,168.15 L98.71,169.34 L99.00,170.53 L99.29,171.72 L99.58,172.91 L99.87,174.11 L100.16,175.30 L100.45,176.49 L100.74,177.68 L101.03,178.87 L101.33,180.06 L101.63,181.24 L101.92,182.43 L102.22,183.62 L102.52,184.80 L102.83,185.99 L103.13,187.17 L103.44,188.36 L103.75,189.54 L104.06,190.72 L104.37,191.90 L104.69,193.08 L105.00,194.26 L105.32,195.43 L105.64,196.61 L105.97,197.78 L106.29,198.96 L106.62,200.13 L106.95,201.30 L107.29,202.47 L107.62,203.64 L107.96,204.80 L108.31,205.97 L108.65,207.13 L109.00,208.29 L109.35,209.45 L109.71,210.61 L110.07,211.76 L110.43,212.92 L110.79,214.07 L111.16,215.22 L111.54,216.37 L111.92,217.52 L112.30,218.67 L112.69,219.81 L113.09,220.96 L113.49,222.10 L113.90,223.25 L114.32,224.39 L114.74,225.53 L115.17,226.67 L115.61,227.82 L116.06,228.96 L116.52,230.10 L116.99,231.24 L117.47,232.38 L117.95,233.52 L118.45,234.67 L118.96,235.81 L119.48,236.95 L120.01,238.09 L120.55,239.23 L121.12,240.37 L121.69,241.49 L122.29,242.60 L122.92,243.69 L123.56,244.75 L124.24,245.79 L124.94,246.80 L125.68,247.78 L126.45,248.72 L127.25,249.61 L128.09,250.46 L128.98,251.27 L129.91,252.01 L130.88,252.70 L131.89,253.34 L132.94,253.91 L134.03,254.42 L135.15,254.87 L136.29,255.26 L137.45,255.59 L138.64,255.85 L139.83,256.05 L141.04,256.18 L142.25,256.25 L143.46,256.25 L144.67,256.18 L145.87,256.04 L147.06,255.84 L148.24,255.57 L149.41,255.24 L150.57,254.86 L151.72,254.43 L152.87,253.97 L154.01,253.48 L155.15,252.96 L156.28,252.42 L157.41,251.88 L158.54,251.33 L159.68,250.78 L160.81,250.24 L161.95,249.73 L163.10,249.23 L164.25,248.76 L165.40,248.33 L166.56,247.92 L167.73,247.54 L168.90,247.19 L170.08,246.86 L171.26,246.57 L172.44,246.30 L173.63,246.05 L174.82,245.83 L176.02,245.64 L177.22,245.47 L178.42,245.33 L179.62,245.22 L180.82,245.12 L182.03,245.05 L183.23,245.01 L184.44,244.99 L185.65,244.99 L186.86,245.01 L188.07,245.05 L189.28,245.12 L190.48,245.21 L191.69,245.32 L192.90,245.45 L194.10,245.60 L195.30,245.77 L196.50,245.95 L197.70,246.16 L198.90,246.39 L200.09,246.62 L201.29,246.88 L202.48,247.15 L203.67,247.43 L204.86,247.72 L206.05,248.02 L207.24,248.33 L208.43,248.64 L209.61,248.97 L210.80,249.30 L211.98,249.63 L213.17,249.97 L214.36,250.31 L215.54,250.64 L216.73,250.98 L217.91,251.32 L219.10,251.66 L220.28,251.99 L221.47,252.31 L222.66,252.63 L223.85,252.94 L225.04,253.25 L226.23,253.54 L227.42,253.82 L228.61,254.10 L229.81,254.35 L231.01,254.60 L232.20,254.83 L233.40,255.04 L234.61,255.23 L235.81,255.41 L237.02,255.57 L238.22,255.70 L239.43,255.83 L240.65,255.93 L241.86,256.03 L243.07,256.10 L244.29,256.17 L245.51,256.22 L246.72,256.26 L247.94,256.30 L249.17,256.32 L250.39,256.33 L251.61,256.34 L252.83,256.35 L254.06,256.35 L255.28,256.35 L256.50,256.35 L257.73,256.35 L258.95,256.35 L260.18,256.35 L261.40,256.35 L262.63,256.35 L263.85,256.35 L265.07,256.35 L266.30,256.35 L267.52,256.35 L268.74,256.35 L269.96,256.35 L271.18,256.35 L272.40,256.35" stroke="#000" stroke-width="1.5"/>
    <path d="M57.80,49.67 L58.74,50.57 L59.65,51.50 L60.53,52.43 L61.39,53.39 L62.22,54.35 L63.03,55.33 L63.81,56.32 L64.57,57.32 L65.30,58.34 L66.01,59.37 L66.70,60.41 L67.36,61.46 L68.01,62.53 L68.63,63.60 L69.24,64.68 L69.83,65.78 L70.39,66.88 L70.94,67.99 L71.48,69.12 L71.99,70.25 L72.50,71.39 L72.98,72.53 L73.45,73.69 L73.91,74.85 L74.36,76.02 L74.79,77.19 L75.21,78.37 L75.62,79.56 L76.02,80.75 L76.41,81.95 L76.79,83.15 L77.16,84.36 L77.52,85.57 L77.88,86.79 L78.22,88.00 L78.57,89.22 L78.91,90.45 L79.24,91.67 L79.57,92.90 L79.89,94.13 L80.22,95.36 L80.54,96.59 L80.86,97.82 L81.17,99.06 L81.49,100.29 L81.81,101.52 L82.13,102.75 L82.45,103.98 L82.77,105.21 L83.10,106.44 L83.43,107.66 L83.75,108.89 L84.08,110.12 L84.41,111.34 L84.74,112.56 L85.07,113.79 L85.41,115.01 L85.74,116.23 L86.08,117.45 L86.41,118.67 L86.75,119.89 L87.09,121.10 L87.43,122.32 L87.76,123.54 L88.10,124.75 L88.44,125.97 L88.79,127.18 L89.13,128.40 L89.47,129.61 L89.81,130.83 L90.15,132.04 L90.50,133.25 L90.84,134.47 L91.18,135.68 L91.52,136.89 L91.87,138.10 L92.21,139.31 L92.55,140.52 L92.90,141.74 L93.24,142.95 L93.58,144.16 L93.92,145.37 L94.26,146.58 L94.60,147.79 L94.95,149.00 L95.29,150.21 L95.62,151.43 L95.96,152.64 L96.30,153.85 L96.64,155.06 L96.97,156.27 L97.31,157.48 L97.64,158.70 L97.98,159.91 L98.31,161.12 L98.64,162.34 L98.97,163.55 L99.30,164.76 L99.63,165.98 L99.95,167.19 L100.28,168.41 L100.61,169.63 L100.93,170.84 L101.26,172.06 L101.58,173.27 L101.91,174.49 L102.24,175.71 L102.57,176.92 L102.90,178.14 L103.23,179.35 L103.57,180.57 L103.91,181.79 L104.25,183.00 L104.59,184.22 L104.94,185.43 L105.29,186.64 L105.64,187.86 L106.00,189.07 L106.36,190.28 L106.73,191.50 L107.10,192.71 L107.48,193.92 L107.87,195.13 L108.26,196.33 L108.65,197.54 L109.05,198.75 L109.46,199.95 L109.88,201.16 L110.30,202.36 L110.74,203.56 L111.17,204.76 L111.62,205.96 L112.08,207.16 L112.54,208.36 L113.02,209.55 L113.50,210.75 L113.99,211.94 L114.49,213.13 L115.01,214.32 L115.53,215.50 L116.06,216.68 L116.61,217.85 L117.16,219.02 L117.73,220.19 L118.31,221.34 L118.90,222.49 L119.51,223.63 L120.12,224.76 L120.75,225.88 L121.39,226.99 L122.05,228.08 L122.72,229.17 L123.40,230.24 L124.10,231.29 L124.81,232.34 L125.54,233.36 L126.29,234.37 L127.04,235.37 L127.82,236.34 L128.61,237.30 L129.41,238.24 L130.24,239.16 L131.08,240.06 L131.93,240.93 L132.81,241.79 L133.70,242.62 L134.61,243.43 L135.54,244.21 L136.48,244.97 L137.45,245.70 L138.43,246.41 L139.43,247.09 L140.45,247.74 L141.48,248.37 L142.53,248.98 L143.60,249.56 L144.68,250.11 L145.77,250.64 L146.88,251.14 L148.00,251.62 L149.13,252.08 L150.28,252.51 L151.44,252.91 L152.61,253.29 L153.79,253.64 L154.98,253.97 L156.18,254.28 L157.39,254.56 L158.61,254.82 L159.84,255.06 L161.08,255.28 L162.32,255.48 L163.57,255.66 L164.83,255.82 L166.10,255.97 L167.37,256.10 L168.64,256.21 L169.92,256.30 L171.21,256.30 L172.50,256.30 L173.79,256.30 L175.08,256.30 L176.38,256.30 L177.68,256.30 L178.99,256.30 L180.29,256.30 L181.60,256.30 L182.90,256.30 L184.21,256.30 L185.51,256.30 L186.82,256.30 L188.12,256.30 L189.42,256.30 L190.72,256.30 L192.01,256.30 L193.31,256.30 L194.60,256.30 L195.89,256.30 L197.17,256.30 L198.46,256.30 L199.74,256.30 L201.02,256.30 L202.30,256.30 L203.58,256.30 L204.85,256.30 L206.12,256.30 L207.39,256.30 L208.66,256.30 L209.93,256.30 L211.20,256.30 L212.46,256.30 L213.72,256.30 L214.99,256.30 L216.25,256.30 L217.50,256.30 L218.76,256.30 L220.02,256.30 L221.27,256.30 L222.53,256.30 L223.78,256.30 L225.03,256.30 L226.28,256.30 L227.54,256.30 L228.79,256.30 L230.03,256.30 L231.28,256.30 L232.53,256.30 L233.78,256.30 L235.02,256.30 L236.27,256.30 L237.52,256.30 L238.76,256.30 L240.01,256.30 L241.25,256.30 L242.50,256.30 L243.74,256.30 L244.99,256.30 L246.23,256.30 L247.48,256.30 L248.72,256.30 L249.97,256.30 L251.21,256.30 L252.46,256.30 L253.70,256.30 L254.95,256.30 L256.20,256.30 L257.45,256.30 L258.69,256.30 L259.94,256.30 L261.19,256.30 L262.44,256.30 L263.70,256.30 L264.95,256.30 L266.20,256.30 L267.46,256.30 L268.71,256.30 L269.97,256.30 L271.23,256.30 L272.48,256.30 L273.74,256.30 L275.01,256.30 L276.27,256.30 L277.53,256.30 L278.80,256.30 L280.07,256.30 L281.34,256.30 L282.61,256.30 L283.88,256.30 L285.16,256.30 L286.43,256.30 L287.71,256.30 L288.99,256.30 L290.28,256.30 L291.56,256.30 L292.85,256.30 L294.14,256.30 L295.43,256.30 L296.73,256.30 L298.02,256.30" stroke="#ff0000" stroke-width="1.5" stroke-dasharray="4.35 1.8"/>
  </g>
  <rect x="46.4" y="39.1" width="263.3" height="227.4" fill="none" stroke="#111" stroke-width="0.9"/>
  <text x="183.8" y="297.9" text-anchor="middle">r (<tspan font-style="italic">μm</tspan>)</text>
  <text transform="translate(9.2,149.3) rotate(-90)" text-anchor="middle"><tspan font-style="italic">C/C</tspan><tspan font-size="8.3" dy="2.2">0</tspan></text>
  <!-- legend -->
  <rect x="167.4" y="46.2" width="138.6" height="54.4" rx="2.4" fill="#8a8a8a" opacity="0.75"/>
  <rect x="165.7" y="44.5" width="138.6" height="54.4" rx="2.4" fill="#fff" stroke="#d0d0d0" stroke-width="1"/>
  <g fill="none" stroke-width="1.35">
    <line x1="170.3" y1="54.3" x2="194" y2="54.3" stroke="#1f77b4" stroke-dasharray="4.4 1.73"/>
    <line x1="170.3" y1="71.4" x2="194" y2="71.4" stroke="#000"/>
    <line x1="170.3" y1="88.5" x2="194" y2="88.5" stroke="#ff0000" stroke-dasharray="4.4 1.73"/>
  </g>
  <g font-size="11.5">
  <text x="203.7" y="58.7">n=0, sphere</text>
  <text x="203.7" y="75.8">n=15, F =99995</text>
  <text x="203.7" y="92.9">target</text>
  </g>
</g>
<text x="-0.4" y="43.2" font-family="'Liberation Serif',serif" font-size="13.2">(a)</text>
<text x="341.2" y="9.2" font-family="'Liberation Serif',serif" font-size="13.4">(b)</text>

</svg>
</body></html>
